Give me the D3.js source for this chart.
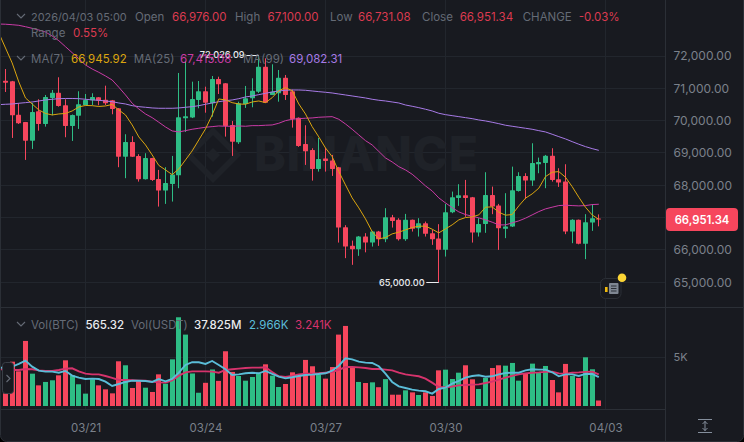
<!DOCTYPE html>
<html><head><meta charset="utf-8">
<script src="https://cdn.jsdelivr.net/npm/d3@7/dist/d3.min.js"></script>
<style>
html,body{margin:0;padding:0;background:#000;overflow:hidden}
svg{display:block}
text{font-family:"Inter","Noto Sans",sans-serif}
</style></head><body><svg id="c" width="744" height="442"></svg>
<script>
const opens=[71237,71218,70186,69960,69382,70291,69898,70702,70866,70476,69836,70155,70485,70631,70723,70649,70631,70383,68887,69342,68909,68189,68847,68198,67836,68043,68312,70074,70099,70640,70909,70538,71289,71156,69867,69332,70516,70693,70896,71669,70795,70847,71329,70909,70093,69280,69094,68507,68826,68764,68560,66705,66127,66025,66415,66229,66569,66334,67014,66931,66334,66931,66674,66829,66520,66353,66003,67163,67611,67694,67632,66538,66807,67704,67373,66653,66724,67827,68291,68146,68652,68693,68918,68189,68115,66569,66931,66189,66847,66976];
const highs=[71598,71230,70538,69960,70547,70662,70795,70949,71342,70662,70190,70909,70825,70847,70730,71082,70640,70390,69580,69518,68962,68992,68850,68476,68560,68909,71475,71845,71206,71227,71051,71382,71360,71160,69991,70587,71073,71311,72026,71929,71743,71567,71413,70960,70100,69858,69147,69465,69166,68940,68570,66767,66291,66430,66520,66590,66590,67292,67085,66983,67116,66940,66983,66878,66622,66798,67425,67806,68034,68167,67640,66983,68405,67960,67425,67756,68578,68405,68374,69301,68857,68940,69147,68529,68652,66950,66940,67107,67416,67100];
const lows=[70887,69465,69898,68785,69125,69691,69815,70167,70433,69487,69373,69744,70470,70485,70476,70485,70198,68560,68220,68880,68115,68180,68136,67342,67425,67497,67911,69651,70080,70383,70247,70124,70825,69506,68909,69280,70393,70414,70856,70547,70790,70587,70640,69784,69190,68631,68146,68424,68424,68291,66229,65747,65540,65818,65927,66105,66127,66241,66693,66291,66282,66569,66415,66415,66158,65000,65796,67138,67364,67024,66229,66415,66530,67107,66003,66365,66710,67806,67571,67982,68374,67911,68115,67951,66489,66210,66175,65716,66591,66731];
const closes=[71175,70167,69920,69382,70269,69898,70733,70866,70455,69836,70176,70507,70640,70733,70618,70538,70362,68887,69342,68887,68189,68847,68167,67836,68074,68331,70105,70136,70671,70909,70557,71289,71125,69836,69351,70538,70693,70927,71669,70557,70896,71329,70795,70053,69218,69054,68507,68816,68754,68507,66693,66105,66025,66415,66229,66569,66334,67014,66900,66334,66931,66653,66829,66498,66334,66003,67169,67632,67694,67611,66538,66807,67704,67342,66674,66724,67849,68291,68146,68693,68724,68918,68167,68084,66569,66931,66189,66860,66983,66951];
const volumes=[1.30,4.55,3.56,6.68,3.32,2.12,2.47,2.64,3.15,4.69,3.15,2.23,1.27,2.74,2.12,1.71,1.30,4.59,4.18,1.85,2.57,1.88,1.44,3.25,2.29,4.79,9.11,7.33,3.34,1.36,2.38,3.75,2.58,5.62,3.50,3.08,2.60,2.98,3.36,4.28,3.12,1.95,2.26,3.46,3.12,4.73,4.08,3.18,2.81,4.00,7.33,8.22,3.94,2.47,2.36,2.43,1.93,2.76,1.16,1.16,1.61,1.40,1.13,1.40,1.03,3.66,3.73,2.77,3.42,4.18,2.74,1.75,2.88,3.90,4.18,4.14,4.42,2.60,3.32,4.35,3.49,4.11,2.67,1.40,4.32,3.08,2.88,5.00,3.77,0.565];
// moving averages: first value sits one slot left of the first candle
const ma7=[72711,72247,71784,71196,70702,70516,70331,70223,70176,70207,70223,70300,70424,70470,70464,70439,70455,70501,70331,70176,69867,69496,69249,68940,68615,68476,68331,68507,68785,69064,69404,69744,70176,70671,70640,70557,70516,70507,70578,70609,70557,70711,70927,71020,70927,70516,70207,69815,69496,69156,68887,68424,68013,67611,67302,66962,66569,66344,66384,66498,66551,66622,66693,66736,66736,66643,66529,66653,66776,66931,67002,67024,67085,67323,67333,67169,67076,67095,67364,67602,67734,67911,68269,68405,68424,68251,67960,67632,67323,67085,66946];
const ma25=[72989,72983,72968,72949,72906,72856,72804,72742,72618,72473,72288,72102,71917,71722,71598,71496,71382,71258,71033,70795,70538,70362,70207,70093,69951,69805,69682,69651,69691,69734,69765,69796,69815,69836,69827,69827,69836,69827,69846,69846,69858,69867,69920,70000,70043,70062,70074,70084,70105,70115,70124,70043,69898,69734,69558,69382,69249,69048,68847,68724,68578,68476,68343,68167,67982,67827,67611,67456,67311,67178,67095,67045,66993,66931,66860,66776,66776,66838,66900,66983,67085,67187,67271,67323,67373,67385,67373,67364,67373,67404,67415];
const ma99=[70495,70507,70516,70538,70557,70578,70609,70640,70662,70680,70686,70686,70680,70662,70640,70631,70609,70587,70547,70516,70464,70433,70414,70393,70383,70383,70383,70393,70414,70433,70464,70507,70547,70587,70618,70640,70680,70733,70764,70804,70847,70887,70918,70940,70949,70949,70940,70918,70897,70878,70856,70825,70795,70764,70733,70702,70662,70631,70609,70578,70547,70485,70445,70402,70353,70300,70229,70186,70155,70124,70093,70062,70022,69991,69951,69907,69858,69827,69796,69765,69734,69691,69651,69580,69506,69435,69351,69271,69197,69135,69082];
const volMaFast=[3.90,3.97,4.04,4.32,4.66,4.04,3.63,3.53,3.53,3.42,3.60,3.12,2.91,2.77,2.81,2.77,2.50,2.05,2.26,2.47,2.60,2.60,2.57,2.47,2.77,2.53,2.77,3.42,4.21,4.50,4.49,4.32,4.62,4.21,3.77,3.18,3.25,3.36,3.42,3.36,3.60,3.29,3.01,2.84,2.95,3.08,3.18,3.22,3.29,3.36,3.63,4.14,4.90,4.79,4.55,4.45,4.42,4.08,3.32,2.47,2.02,1.85,1.68,1.58,1.51,1.27,1.75,1.88,2.29,2.57,2.91,3.08,3.15,3.01,3.05,3.25,3.39,3.42,3.42,3.66,3.77,3.73,3.73,3.46,3.05,3.25,3.25,3.08,3.29,3.29,2.966];
const volMaSlow=[3.77,3.77,3.70,3.70,3.80,3.77,3.66,3.60,3.60,3.70,3.84,3.87,3.56,3.32,3.25,3.25,3.08,2.88,2.67,2.67,2.64,2.60,2.60,2.50,2.43,2.40,2.64,3.12,3.46,3.56,3.56,3.56,3.53,3.42,3.70,3.77,3.84,3.90,3.94,3.94,3.97,3.50,3.05,2.98,3.08,3.25,3.32,3.32,3.36,3.42,3.49,3.70,4.00,4.00,3.97,3.90,3.80,3.80,3.73,3.66,3.42,3.25,3.15,3.05,2.81,2.40,1.95,1.92,2.00,2.12,2.16,2.19,2.22,2.36,2.50,2.70,2.91,3.10,3.25,3.35,3.42,3.45,3.50,3.53,3.35,3.30,3.42,3.45,3.50,3.53,3.241];
const priceGrid=[72000,71000,70000,69000,68000,67000,66000,65000];
const priceLabels=[72000,71000,70000,69000,68000,66000,65000];
const volTicks=[5000];
const dateLabels=["03/21","03/24","03/27","03/30","04/03"];
const dateSlots=[12,30,48,66,90];
const maxMark={slot:38,price:72026.09,label:"72,026.09"};
const minMark={slot:65,price:65000,label:"65,000.00"};
const lastPrice=66951.34;

const C={bg:"#181a20",grid:"#22262d",line:"#2b2f36",up:"#2ebd85",down:"#f6465d",label:"#656b76",axis:"#7b818b",hdr:"#dc3a50",
 ma7:"#dba50f",ma25:"#c93ba5",ma99:"#a77ae6",vf:"#5bbdd8",vs:"#d6336c"};
const svg=d3.select("#c");
const x=d3.scaleLinear().domain([0,89]).range([5.5,598.8]);
const y=d3.scaleLinear().domain([72000,65000]).range([56,282.3]);
const yv=d3.scaleLinear().domain([0,5000]).range([406,357.3]);
const n=opens.length;
const px=v=>Math.round(v-.5)+.5;

svg.append("rect").attr("x",.5).attr("y",-6).attr("width",743).attr("height",447.5).attr("rx",6).attr("fill",C.bg).attr("stroke",C.line);
const defs=svg.append("defs");
defs.append("clipPath").attr("id","pc").append("rect").attr("x",1).attr("y",0).attr("width",664).attr("height",307);
defs.append("clipPath").attr("id","vc").append("rect").attr("x",1).attr("y",309).attr("width",664).attr("height",100);

// grid
const grid=svg.append("g").attr("stroke",C.grid).attr("stroke-width",1);
grid.selectAll("line.h").data(priceGrid).join("line").attr("class","h").attr("x1",1).attr("x2",665).attr("y1",d=>px(y(d))).attr("y2",d=>px(y(d)));
grid.selectAll("line.hv").data(volTicks).join("line").attr("class","hv").attr("x1",1).attr("x2",665).attr("y1",d=>px(yv(d))).attr("y2",d=>px(yv(d)));
grid.selectAll("line.v").data(dateSlots).join("line").attr("class","v").attr("x1",d=>px(x(d))).attr("x2",d=>px(x(d))).attr("y1",0).attr("y2",409);
const frame=svg.append("g").attr("stroke",C.line).attr("stroke-width",1);
frame.append("line").attr("x1",1).attr("x2",744).attr("y1",307.5).attr("y2",307.5);
frame.append("line").attr("x1",1).attr("x2",665).attr("y1",409.5).attr("y2",409.5);
frame.append("line").attr("x1",665.5).attr("x2",665.5).attr("y1",0).attr("y2",442);

// watermark
const wm=svg.append("g").attr("fill","#1f2228");
wm.append("text").attr("x",254).attr("y",171).attr("font-size",48).attr("font-weight",800).attr("letter-spacing",.5).text("BINANCE");
const dia=(cx,cy,r)=>`M${cx},${cy-r}L${cx+r},${cy}L${cx},${cy+r}L${cx-r},${cy}Z`;
wm.append("path").attr("d",dia(213,155,7));
wm.append("path").attr("fill-rule","evenodd").attr("d",dia(213,155,28)+dia(213,155,20));

// candles
const pc=svg.append("g").attr("clip-path","url(#pc)");
const idx=d3.range(n);
const col=i=>closes[i]>=opens[i]?C.up:C.down;
pc.selectAll("line.w").data(idx).join("line").attr("class","w")
 .attr("x1",i=>px(x(i))).attr("x2",i=>px(x(i))).attr("y1",i=>y(highs[i])).attr("y2",i=>y(lows[i]))
 .attr("stroke",col).attr("stroke-width",1);
pc.selectAll("rect.b").data(idx).join("rect").attr("class","b")
 .attr("x",i=>px(x(i))-2.5).attr("width",5)
 .attr("y",i=>Math.min(y(opens[i]),y(closes[i])))
 .attr("height",i=>Math.max(1,Math.abs(y(opens[i])-y(closes[i]))))
 .attr("rx",.6).attr("fill",col);
const maLine=d3.line().x((d,i)=>x(i-1)).y(d=>y(d));
[[ma99,C.ma99],[ma25,C.ma25],[ma7,C.ma7]].forEach(([d,c])=>pc.append("path").attr("d",maLine(d)).attr("fill","none").attr("stroke",c).attr("stroke-width",1));

// volume
const vc=svg.append("g").attr("clip-path","url(#vc)");
vc.selectAll("rect").data(idx).join("rect").attr("x",i=>px(x(i))-2.5).attr("width",5)
 .attr("y",i=>yv(volumes[i]*1000)).attr("height",i=>yv(0)-yv(volumes[i]*1000)).attr("fill",col);
const vLine=d3.line().x((d,i)=>x(i-1)).y(d=>yv(d*1000));
[[volMaSlow,C.vs],[volMaFast,C.vf]].forEach(([d,c])=>vc.append("path").attr("d",vLine(d)).attr("fill","none").attr("stroke",c).attr("stroke-width",1.9));

// axes
const fmt=d3.format(",.2f");
const ax=svg.append("g").attr("transform","translate(673.5,0)").call(d3.axisRight(y).tickValues(priceLabels).tickSize(0).tickPadding(0).tickFormat(fmt));
ax.select(".domain").remove();
ax.selectAll("text").attr("fill",C.axis).attr("font-size",12).style("font-family","Inter,'Noto Sans',sans-serif");
const axv=svg.append("g").attr("transform","translate(673.5,0)").call(d3.axisRight(yv).tickValues(volTicks).tickSize(0).tickPadding(0).tickFormat(d=>d/1000+"K"));
axv.select(".domain").remove();
axv.selectAll("text").attr("fill",C.axis).attr("font-size",11).style("font-family","Inter,'Noto Sans',sans-serif");
const xb=d3.axisBottom(x).tickValues(dateSlots).tickSize(0).tickPadding(0).tickFormat((d,i)=>dateLabels[i]);
const axb=svg.append("g").attr("transform","translate(0,421)").call(xb);
axb.select(".domain").remove();
axb.selectAll("text").attr("fill",C.axis).attr("font-size",11.5).attr("dy","0.95em").style("font-family","Inter,'Noto Sans',sans-serif");

// hi/lo marks
const mark=m=>{const g=svg.append("g");const yy=y(m.price),xx=x(m.slot);
 g.append("line").attr("x1",xx-12.5).attr("x2",xx).attr("y1",px(yy)).attr("y2",px(yy)).attr("stroke","#eaecef");
 g.append("text").attr("x",xx-14.2).attr("y",yy).attr("dy","0.35em").attr("text-anchor","end").attr("font-size",9.2).attr("font-weight",500).attr("fill","#eaecef").text(m.label);};
mark(maxMark);mark(minMark);

// header texts
const T=(tx,ty,s,c,o={})=>svg.append("text").attr("x",tx).attr("y",ty).attr("dy","0.35em").attr("font-size",o.fs||11.5).attr("font-weight",o.w||400).attr("fill",c).text(s);
const L=C.label;
T(31,17,"2026/04/03 05:00",L,{fs:10.9});T(135,17,"Open",L);T(172,17,"66,976.00",C.hdr);T(235,17,"High",L);T(267.5,17,"67,100.00",C.hdr);
T(330,17,"Low",L);T(358,17,"66,731.08",C.hdr);T(422,17,"Close",L);T(459.7,17,"66,951.34",C.hdr);T(522.7,17,"CHANGE",L);T(578.7,17,"-0.03%",C.hdr);
T(31,33,"Range",L);T(73,33,"0.55%",C.hdr);
T(31,59,"MA(7)",L);T(71,59,"66,945.92",C.ma7);T(133.7,59,"MA(25)",L);T(180,59,"67,415.08",C.ma25);T(243,59,"MA(99)",L);T(289,59,"69,082.31",C.ma99);
T(31,325,"Vol(BTC)",L);T(85.5,325,"565.32","#eaecef",{w:500});T(131,325,"Vol(USDT)",L);T(194,325,"37.825M","#eaecef",{w:500});T(249,325,"2.966K",C.vf);T(295,325,"3.241K",C.vs);
const chev=(cx,cy)=>svg.append("path").attr("d",`M${cx-4},${cy-2}L${cx},${cy+2}L${cx+4},${cy-2}`).attr("fill","none").attr("stroke",L).attr("stroke-width",1.1);
chev(21,16);chev(21,58);chev(21,324);

// collapse handle
svg.append("rect").attr("x",2.5).attr("y",362.5).attr("width",11).attr("height",31).attr("rx",3).attr("fill",C.bg).attr("stroke","#3a3f47");
svg.append("path").attr("d","M6.5,375L10,378.5L6.5,382").attr("fill","none").attr("stroke",L).attr("stroke-width",1.1);

// last price tag
svg.append("rect").attr("x",666).attr("y",208).attr("width",72).attr("height",23).attr("rx",4).attr("fill",C.down);
svg.append("text").attr("x",702).attr("y",219.5).attr("dy","0.36em").attr("text-anchor","middle").attr("font-size",11.3).attr("font-weight",600).attr("fill","#fff").text(fmt(lastPrice));

// news icon + dot
svg.append("rect").attr("x",600.5).attr("y",278.5).attr("width",20.5).attr("height",20).attr("rx",5).attr("fill",C.bg).attr("stroke","#2b2f36");
svg.append("rect").attr("x",609).attr("y",283).attr("width",9.5).attr("height",11).attr("rx",1).attr("fill","#7f8793");
svg.append("rect").attr("x",605).attr("y",287).attr("width",2.6).attr("height",5).attr("fill","#f0b90b");
[286,288.5,291].forEach(v=>svg.append("line").attr("x1",611).attr("x2",616.5).attr("y1",v).attr("y2",v).attr("stroke","#2b2f36"));
svg.append("circle").attr("cx",622).attr("cy",277.7).attr("r",4.3).attr("fill","#fcd535");

// fit icon
const fi=svg.append("g").attr("stroke","#848e9c").attr("fill","none").attr("stroke-width",1);
fi.append("line").attr("x1",698).attr("x2",712).attr("y1",419.5).attr("y2",419.5);
fi.append("line").attr("x1",698).attr("x2",712).attr("y1",432.5).attr("y2",432.5);
fi.append("line").attr("x1",705).attr("x2",705).attr("y1",421).attr("y2",431);
fi.append("path").attr("d","M702.5,424L705,421.5L707.5,424M702.5,428L705,430.5L707.5,428");
</script></body></html>
